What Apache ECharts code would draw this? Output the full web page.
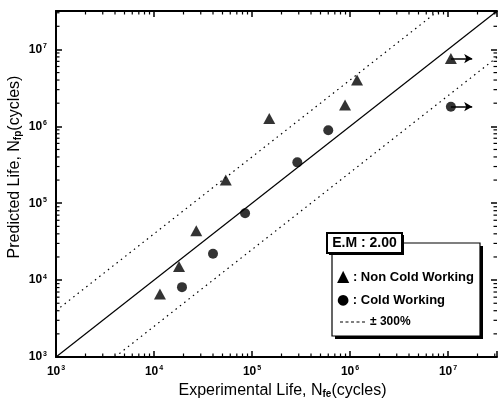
<!DOCTYPE html>
<html>
<head>
<meta charset="utf-8">
<script src="https://cdn.jsdelivr.net/npm/echarts@6/dist/echarts.min.js"></script>
<style>
  html, body { margin: 0; padding: 0; background: #fff; }
  #chart { width: 498px; height: 407px; }
</style>
</head>
<body>
<div id="chart"></div>
<script>
// axis range (both log10)
var axisMin = 1e3;
var axisMax = Math.pow(10, 7.5);
var decades = [1e3, 1e4, 1e5, 1e6, 1e7];
var minorSteps = [2, 3, 4, 5, 6, 7, 8, 9];

// Non Cold Working (triangles): [experimental, predicted]
var nonColdExp = [1.15e4, 1.8e4, 2.7e4, 5.4e4, 1.5e5, 8.9e5, 1.18e6, 1.07e7];
var nonColdPred = [6.6e3, 1.5e4, 4.4e4, 2.0e5, 1.26e6, 1.9e6, 4.0e6, 7.6e6];

// Cold Working (circles)
var coldExp = [1.93e4, 4.0e4, 8.5e4, 2.9e5, 6.0e5, 1.07e7];
var coldPred = [8.1e3, 2.2e4, 7.4e4, 3.4e5, 8.9e5, 1.8e6];

// +-300% band => factor 4
var bandFactor = 4;
var arrowFactor = 1.65; // run-out arrows on the last points

function zip(a, b) {
  return a.map(function (v, i) { return [v, b[i]]; });
}

var minorTicks = [];
decades.forEach(function (d) {
  minorSteps.forEach(function (m) {
    if (d * m < axisMax) minorTicks.push(d * m);
  });
});

function powLabel(v) {
  var e = Math.log10(v);
  var r = Math.round(e);
  if (Math.abs(e - r) > 1e-6) return '';
  return '{b|10}{s|' + r + '}';
}

var labelRich = {
  b: { fontSize: 12, fontWeight: 'bold', color: '#000', fontFamily: 'Liberation Sans' },
  s: { fontSize: 7, fontWeight: 'bold', color: '#000', fontFamily: 'Liberation Sans', verticalAlign: 'top', padding: [0, 0, 6, 1] }
};
var nameRich = {
  sub: { fontSize: 10, fontWeight: 'bold', color: '#000', fontFamily: 'Liberation Sans', verticalAlign: 'bottom', padding: [7, 0, 0, 0] }
};

function lastArrow(xs, ys) {
  var n = xs.length - 1;
  return {
    silent: true,
    symbol: ['none', 'arrow'],
    symbolSize: [7, 8],
    label: { show: false },
    lineStyle: { color: '#000', width: 1.5, type: 'solid' },
    data: [[{ coord: [xs[n], ys[n]] }, { coord: [xs[n] * arrowFactor, ys[n]] }]]
  };
}

var chart = echarts.init(document.getElementById('chart'));

var axisCommon = {
  type: 'log',
  logBase: 10,
  min: axisMin,
  max: axisMax,
  splitLine: { show: false },
  axisLine: { lineStyle: { color: '#000', width: 2 } },
  axisTick: { inside: true, length: 6, lineStyle: { color: '#000', width: 1.5 } }
};

chart.setOption({
  animation: false,
  backgroundColor: '#fff',
  grid: { left: 56, top: 11, right: 1, bottom: 50, containLabel: false, outerBoundsMode: 'none' },
  xAxis: [
    Object.assign({}, axisCommon, {
      position: 'bottom',
      name: 'Experimental Life, N{sub|fe}(cycles)',
      nameLocation: 'middle',
      nameGap: 23,
      nameTextStyle: { fontSize: 16, color: '#000', fontFamily: 'Liberation Sans', padding: [0, 0, 0, 12], rich: nameRich },
      axisLabel: { margin: 8, formatter: powLabel, rich: labelRich }
    }),
    Object.assign({}, axisCommon, {
      position: 'top',
      axisLabel: { show: false }
    })
  ],
  yAxis: [
    Object.assign({}, axisCommon, {
      position: 'left',
      name: 'Predicted Life, N{sub|fp}(cycles)',
      nameLocation: 'middle',
      nameGap: 33,
      nameMoveOverlap: false,
      nameTextStyle: { fontSize: 16, color: '#000', fontFamily: 'Liberation Sans', padding: [0, 0, 0, 34], rich: nameRich },
      axisLabel: { margin: 9, formatter: powLabel, rich: labelRich }
    }),
    Object.assign({}, axisCommon, {
      position: 'right',
      axisLine: { show: false },
      axisLabel: { show: false }
    })
  ],
  series: [
    {
      type: 'line',
      data: [[axisMin, axisMin], [axisMax, axisMax]],
      symbol: 'none',
      lineStyle: { color: '#000', width: 1.2 },
      silent: true
    },
    {
      type: 'line',
      data: [[axisMin, axisMin * bandFactor], [axisMax / bandFactor, axisMax]],
      symbol: 'none',
      lineStyle: { color: '#000', width: 1.2, type: [1.5, 4] },
      silent: true
    },
    {
      type: 'line',
      data: [[axisMin * bandFactor, axisMin], [axisMax, axisMax / bandFactor]],
      symbol: 'none',
      lineStyle: { color: '#000', width: 1.2, type: [1.5, 4] },
      silent: true
    },
    {
      name: 'Non Cold Working',
      type: 'scatter',
      symbol: 'triangle',
      symbolSize: [12, 11],
      itemStyle: { color: '#000' },
      data: zip(nonColdExp, nonColdPred),
      markLine: lastArrow(nonColdExp, nonColdPred)
    },
    {
      name: 'Cold Working',
      type: 'scatter',
      symbol: 'circle',
      symbolSize: 10,
      itemStyle: { color: '#000' },
      data: zip(coldExp, coldPred),
      markLine: lastArrow(coldExp, coldPred)
    },
    {
      // minor ticks on bottom and top
      type: 'custom',
      silent: true,
      data: minorTicks.map(function (v) { return [v, axisMin]; }),
      renderItem: function (params, api) {
        var cs = params.coordSys;
        var px = api.coord([api.value(0), axisMin])[0];
        var st = { stroke: '#000', lineWidth: 1.2 };
        return {
          type: 'group',
          children: [
            { type: 'line', shape: { x1: px, y1: cs.y + cs.height, x2: px, y2: cs.y + cs.height - 3.5 }, style: st },
            { type: 'line', shape: { x1: px, y1: cs.y, x2: px, y2: cs.y + 3.5 }, style: st }
          ]
        };
      }
    },
    {
      // minor ticks on left and right
      type: 'custom',
      silent: true,
      data: minorTicks.map(function (v) { return [axisMin, v]; }),
      renderItem: function (params, api) {
        var cs = params.coordSys;
        var py = api.coord([axisMin, api.value(1)])[1];
        var st = { stroke: '#000', lineWidth: 1.2 };
        return {
          type: 'group',
          children: [
            { type: 'line', shape: { x1: cs.x, y1: py, x2: cs.x + 3.5, y2: py }, style: st },
            { type: 'line', shape: { x1: cs.x + cs.width, y1: py, x2: cs.x + cs.width - 3.5, y2: py }, style: st }
          ]
        };
      }
    }
  ],
  graphic: [
    // legend box with drop shadow
    { type: 'rect', shape: { x: 335, y: 246, width: 148, height: 93 }, style: { fill: '#000' }, z: 100 },
    { type: 'rect', shape: { x: 332, y: 243, width: 148, height: 93 }, style: { fill: '#fff', stroke: '#000', lineWidth: 1.2 }, z: 101 },
    { type: 'rect', shape: { x: 329, y: 235, width: 75, height: 20 }, style: { fill: '#000' }, z: 102 },
    { type: 'rect', shape: { x: 327, y: 233, width: 75, height: 20 }, style: { fill: '#fff', stroke: '#000', lineWidth: 2 }, z: 103 },
    { type: 'text', x: 364.5, y: 243.5, z: 104,
      style: { text: 'E.M : 2.00', fill: '#000', font: 'bold 14px "Liberation Sans"', align: 'center', verticalAlign: 'middle' } },
    { type: 'text', x: 337, y: 277, z: 104,
      style: { text: '{m|\u25B2} : Non Cold Working', fill: '#000', font: 'bold 13px "Liberation Sans"', verticalAlign: 'middle',
        rich: { m: { fontSize: 16, fontFamily: 'DejaVu Sans', fill: '#000' } } } },
    { type: 'text', x: 337, y: 300, z: 104,
      style: { text: '{m|\u25CF} : Cold Working', fill: '#000', font: 'bold 13px "Liberation Sans"', verticalAlign: 'middle',
        rich: { m: { fontSize: 14, fontFamily: 'DejaVu Sans', fill: '#000' } } } },
    { type: 'line', z: 104, shape: { x1: 340, y1: 322, x2: 366, y2: 322 },
      style: { stroke: '#000', lineWidth: 1.2, lineDash: [3, 2.5] } },
    { type: 'text', x: 370, y: 322, z: 104,
      style: { text: '\u00B1 300%', fill: '#000', font: 'bold 12px "Liberation Sans"', verticalAlign: 'middle' } }
  ]
});
</script>
</body>
</html>
